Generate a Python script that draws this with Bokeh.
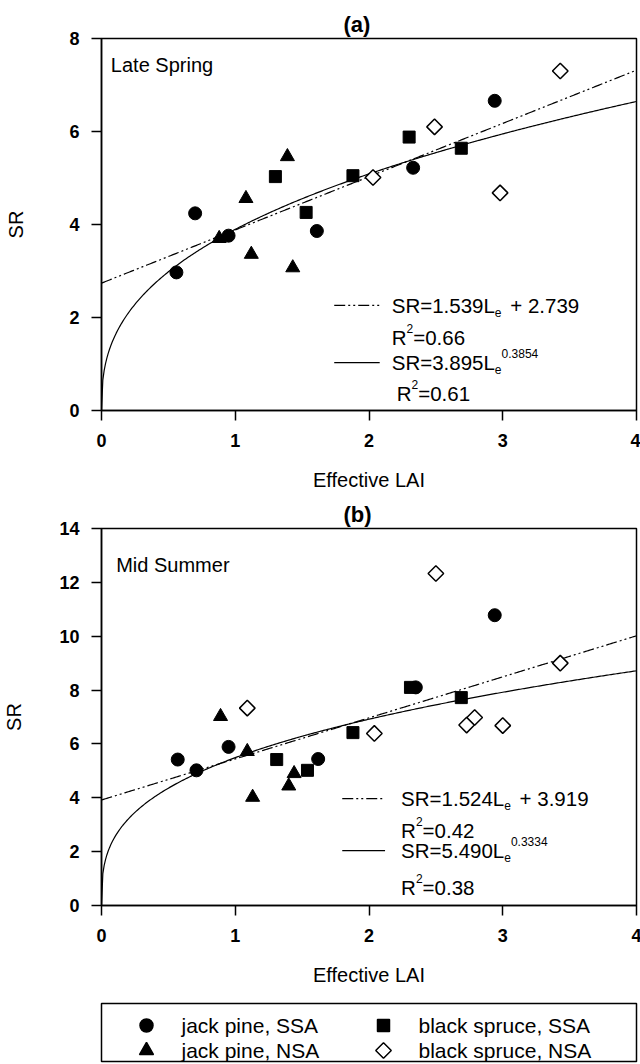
import numpy as np
from bokeh.plotting import figure
from bokeh.models import Range1d, Label, FixedTicker
from bokeh.layouts import column
from bokeh.embed import file_html
from bokeh.resources import INLINE

FONT = "Liberation Sans"

# ---------------- data ----------------
series_names = ["jack pine, SSA", "jack pine, NSA", "black spruce, SSA", "black spruce, NSA"]

# (a) Late Spring
a_jp_ssa_x = [0.56, 0.70, 0.95, 1.61, 2.33, 2.94]
a_jp_ssa_y = [2.97, 4.24, 3.76, 3.86, 5.22, 6.66]
a_jp_nsa_x = [0.88, 1.08, 1.12, 1.39, 1.43]
a_jp_nsa_y = [3.70, 4.56, 3.36, 5.46, 3.07]
a_bs_ssa_x = [1.30, 1.53, 1.88, 2.30, 2.69]
a_bs_ssa_y = [5.03, 4.26, 5.05, 5.88, 5.64]
a_bs_nsa_x = [2.03, 2.49, 2.98, 3.43]
a_bs_nsa_y = [5.01, 6.10, 4.68, 7.30]

# (b) Mid Summer
b_jp_ssa_x = [0.57, 0.71, 0.95, 1.62, 2.35, 2.94]
b_jp_ssa_y = [5.42, 5.02, 5.89, 5.44, 8.10, 10.78]
b_jp_nsa_x = [0.89, 1.09, 1.13, 1.40, 1.44]
b_jp_nsa_y = [7.02, 5.72, 4.02, 4.44, 4.90]
b_bs_ssa_x = [1.31, 1.54, 1.88, 2.31, 2.69]
b_bs_ssa_y = [5.42, 5.02, 6.42, 8.10, 7.72]
b_bs_nsa_x = [1.09, 2.04, 2.50, 2.73, 2.79, 3.00, 3.43]
b_bs_nsa_y = [7.33, 6.39, 12.33, 6.70, 6.98, 6.68, 9.00]

# fitted models as printed on the chart
a_lin = [1.539, 2.739]
a_pow = [3.895, 0.3854]
a_r2 = ["0.66", "0.61"]
b_lin = [1.524, 3.919]
b_pow = [5.490, 0.3334]
b_r2 = ["0.42", "0.38"]
# linear fit line as actually drawn in panel (a) (2.74 at 0, 7.32 at 4)
a_lin_drawn = [1.145, 2.739]

x_ticks = [0, 1, 2, 3, 4]
a_y_ticks = [0, 2, 4, 6, 8]
b_y_ticks = [0, 2, 4, 6, 8, 10, 12, 14]

# ---------------- helpers ----------------
CW = {"S": 667, "R": 722, "=": 584, "+": 584, ".": 278, " ": 278, "L": 556, "e": 556}
EQ_SIZE = 20.5


def tw(s, size):
    return sum(CW.get(c, 556) for c in s) * size / 1000.0


def rich(p, x, y, parts, size=EQ_SIZE, x_shift=0):
    off = x_shift
    for txt, kind, pad in parts:
        off += pad
        if kind == "n":
            fs, dy = size, 0
        elif kind == "sub":
            fs, dy = 12, -7
        else:
            fs, dy = 12, 9
        p.add_layout(Label(x=x, y=y, x_offset=off, y_offset=dy, text=txt,
                           text_font=FONT, text_font_size=f"{fs}px",
                           text_baseline="middle", text_align="left",
                           text_color="black"))
        off += tw(txt, fs)


def style(p, ylabel_standoff):
    p.outline_line_color = "black"
    p.outline_line_width = 1.5
    p.xgrid.visible = False
    p.ygrid.visible = False
    p.background_fill_color = "white"
    p.border_fill_color = "white"
    for ax in (p.xaxis[0], p.yaxis[0]):
        ax.major_tick_out = 10
        ax.major_tick_in = 0
        ax.minor_tick_out = 0
        ax.minor_tick_in = 0
        ax.axis_line_width = 1.5
        ax.axis_line_color = "black"
        ax.major_tick_line_width = 1.5
        ax.major_tick_line_color = "black"
        ax.major_label_text_font = FONT
        ax.major_label_text_font_size = "18px"
        ax.major_label_text_font_style = "bold"
        ax.major_label_text_color = "black"
        ax.axis_label_text_font = FONT
        ax.axis_label_text_font_size = "20px"
        ax.axis_label_text_font_style = "normal"
        ax.axis_label_text_color = "black"
    p.xaxis[0].major_label_standoff = 13
    p.yaxis[0].major_label_standoff = 12
    p.xaxis[0].axis_label_standoff = 19
    p.yaxis[0].axis_label_standoff = ylabel_standoff
    p.title.align = "left"
    p.title.offset = 242
    p.title.standoff = 3
    p.title.text_font = FONT
    p.title.text_font_size = "22px"
    p.title.text_font_style = "bold"
    p.title.text_color = "black"


def panel(title, ymax, yticks, frame_h, top, bottom, pts, lin, lin_drawn, pw, r2, season,
          season_y, txt_rows, ylabel_standoff, sample_x, text_x, r4_shift):
    p = figure(title=title, frame_width=535, frame_height=frame_h,
               x_range=Range1d(0, 4), y_range=Range1d(0, ymax),
               min_border_left=99, min_border_right=6, min_border_top=top,
               min_border_bottom=bottom, toolbar_location=None,
               output_backend="svg", x_axis_label="Effective LAI", y_axis_label="SR")
    style(p, ylabel_standoff)
    p.xaxis[0].ticker = FixedTicker(ticks=x_ticks)
    p.yaxis[0].ticker = FixedTicker(ticks=yticks)

    # fitted curves
    xs = np.linspace(0, 4, 401)
    p.line(xs, lin_drawn[0] * xs + lin_drawn[1], line_color="black", line_width=1.2,
           line_dash="11 3 2 3 2 3")
    p.line(xs, pw[0] * xs ** pw[1], line_color="black", line_width=1.2)

    (jsx, jsy), (jnx, jny), (bsx, bsy), (bnx, bny) = pts
    p.scatter(jsx, jsy, marker="circle", size=13, fill_color="black", line_color="black")
    p.scatter(jnx, jny, marker="triangle", size=14, fill_color="black", line_color="black")
    p.scatter(bsx, bsy, marker="square", size=12, fill_color="black", line_color="black")
    p.scatter(bnx, bny, marker="square", size=11, angle=np.pi / 4, fill_color="white",
              line_color="black", line_width=1.5)

    p.add_layout(Label(x=season[1], y=season_y, text=season[0], text_font=FONT,
                       text_font_size="20px", text_baseline="middle", text_color="black"))

    r1, r2y, r3, r4 = txt_rows
    sp = tw(" ", EQ_SIZE)
    # line samples
    p.line(sample_x, [r1, r1], line_color="black", line_width=1.2, line_dash="11 3 2 3 2 3")
    p.line(sample_x, [r3, r3], line_color="black", line_width=1.2)
    rich(p, text_x, r1, [(f"SR={lin[0]:.3f}L", "n", 0), ("e", "sub", 0),
                         (f"+ {lin[1]:.3f}", "n", sp + 3)])
    rich(p, text_x, r2y, [("R", "n", 0), ("2", "sup", 0), (f"={r2[0]}", "n", 0)])
    rich(p, text_x, r3, [(f"SR={pw[0]:.3f}L", "n", 0), ("e", "sub", 0),
                         (f"{pw[1]:.4f}", "sup", 0)])
    rich(p, text_x, r4, [("R", "n", 0), ("2", "sup", 0), (f"={r2[1]}", "n", 0)],
         x_shift=r4_shift)
    return p


pa = panel("(a)", 8, a_y_ticks, 372, 38, 87,
           [(a_jp_ssa_x, a_jp_ssa_y), (a_jp_nsa_x, a_jp_nsa_y),
            (a_bs_ssa_x, a_bs_ssa_y), (a_bs_nsa_x, a_bs_nsa_y)],
           a_lin, a_lin_drawn, a_pow, a_r2, ("Late Spring", 0.07), 7.42,
           (2.26, 1.57, 1.03, 0.37), 39, [1.74, 2.08], 2.17, 5)

pb = panel("(b)", 14, b_y_ticks, 377, 31, 87,
           [(b_jp_ssa_x, b_jp_ssa_y), (b_jp_nsa_x, b_jp_nsa_y),
            (b_bs_ssa_x, b_bs_ssa_y), (b_bs_nsa_x, b_bs_nsa_y)],
           b_lin, b_lin, b_pow, b_r2, ("Mid Summer", 0.11), 12.63,
           (3.97, 2.79, 2.04, 0.68), 31, [1.80, 2.12], 2.24, 0)

# ---------------- legend box ----------------
pl = figure(frame_width=535, frame_height=58, x_range=Range1d(0, 535), y_range=Range1d(58, 0),
            min_border_left=99, min_border_right=6, min_border_top=11, min_border_bottom=2,
            toolbar_location=None, output_backend="svg", x_axis_type=None, y_axis_type=None)
pl.outline_line_color = "black"
pl.outline_line_width = 1.5
pl.xgrid.visible = False
pl.ygrid.visible = False

markers = ["circle", "triangle", "square", "square"]
angles = [0, 0, 0, np.pi / 4]
fills = ["black", "black", "black", "white"]
sizes = [13, 14, 12, 11]
for i, name in enumerate(series_names):
    col, row = i // 2, i % 2
    mx = 45 + col * 237
    tx = 80 + col * 237
    my = 22 + row * 25
    pl.scatter([mx], [my], marker=markers[i], size=sizes[i], angle=angles[i],
               fill_color=fills[i], line_color="black", line_width=1.5)
    pl.add_layout(Label(x=tx, y=my, text=name, text_font=FONT, text_font_size="21px",
                        text_baseline="middle", text_color="black"))

layout = column(pa, pb, pl, spacing=0)
open("out.html", "w").write(file_html(layout, INLINE))
